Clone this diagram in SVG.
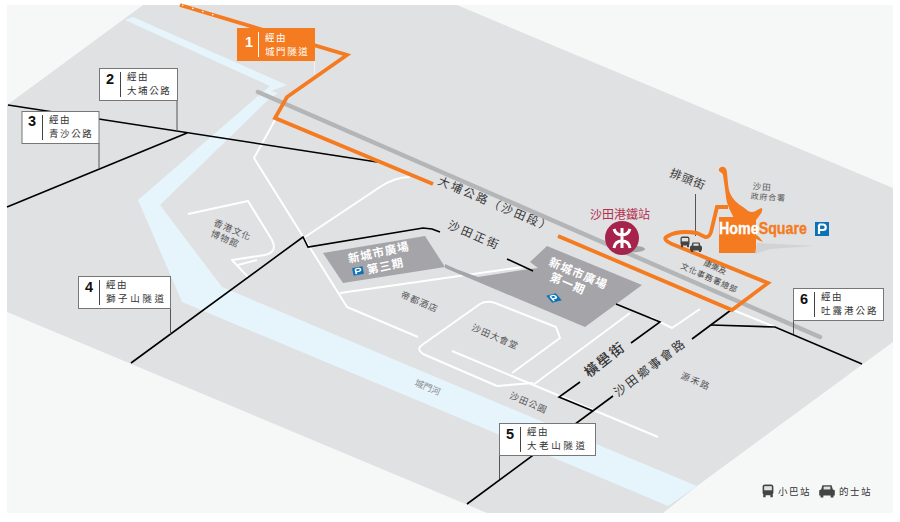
<svg xmlns="http://www.w3.org/2000/svg" width="900" height="522" viewBox="0 0 900 522">
<style>
text{font-family:"Noto Sans CJK TC","Noto Sans CJK SC","Liberation Sans",sans-serif}
.rw{fill:none;stroke:#fff;stroke-width:2;stroke-linejoin:round}
.bk{fill:none;stroke:#000;stroke-width:1.6;stroke-linejoin:miter}
.ld{fill:none;stroke:#555;stroke-width:1}
.or{fill:none;stroke:#f47b20;stroke-width:3.8;stroke-linejoin:miter}
.box{fill:#fff;stroke:#777;stroke-width:1}
.num{font-family:"Liberation Sans",sans-serif;font-weight:700;font-size:14.5px;fill:#111}
.bt{font-size:9.5px;letter-spacing:1.6px;fill:#333}
.st{font-size:11.5px;fill:#333;letter-spacing:2.5px}
.pl{font-size:9px;fill:#555;letter-spacing:1px}
.wb{font-size:11.5px;font-weight:700;fill:#fff;letter-spacing:1px}
</style>
<defs>
<g id="bus"><rect x="-4.5" y="-5.5" width="9" height="9" rx="2" fill="#444"/><rect x="-3.2" y="-4" width="6.4" height="3.4" fill="#e0e1e3"/><rect x="-4" y="3" width="2" height="2.2" fill="#444"/><rect x="2" y="3" width="2" height="2.2" fill="#444"/></g>
<g id="taxi"><path d="M-3.5-4.500H3.500L4.500-1.200 6-.5V3.500H-6V-.5L-4.500-1.200Z" fill="#444"/><rect x="-2.600" y="-3.400" width="5.200" height="2.200" fill="#e0e1e3"/><rect x="-5" y="3" width="2.200" height="2" fill="#444"/><rect x="2.800" y="3" width="2.200" height="2" fill="#444"/></g>
<g id="park"><rect x="-7" y="-7" width="14" height="14" fill="#0b72b8"/><path d="M-3-4.500V5M-3-4.500H1A2.500 2.500 0 0 1 1 1H-3" fill="none" stroke="#fff" stroke-width="2.200"/></g>
</defs>
<rect x="0" y="0" width="900" height="522" fill="#fff"/>
<rect x="7" y="5" width="886" height="508" fill="#f6f8f8"/>
<g id="ground">
<polygon points="143,5 457,5 893,188 893,342 697,486 663,513 487,513 7,312 7,105" fill="#e0e1e3"/>
<polygon points="160,205 268,100 258,96 138,200 182,302 450,414 668,506 697,486 450,383 222,287" fill="#e6f4fb"/>
<polygon points="125,20 133,17 287,85 271,91 278,93 268,100 258,96 270,86" fill="#e6f4fb"/>
</g>
<g id="roads">
<polyline class="rw" points="275,120 254,158 347,307 418,337"/>
<path class="rw" d="M305,237L380,187Q395,177 410,177"/>
<path class="rw" d="M188,214L248,201L272,240Q278,252 265,255L232,260L248,277M238,265L257,260"/>
<polyline class="rw" points="340,293 523,267"/>
<path class="rw" d="M497,386L423,354Q416,349 422,345L480,304Q487,300 495,303L556,327L560,338L512,373"/>
<polyline class="rw" points="497,386 533,383"/>
<polyline class="rw" points="452,351 658,437"/>
<polyline class="rw" points="533,385 630,313"/>
<polyline class="rw" points="650,317 672,328 700,309"/>
<polyline class="rw" points="733,310 775,327"/>
</g>
<line id="rail" x1="258" y1="92" x2="820" y2="337" stroke="#b4b5b7" stroke-width="4.5" stroke-linecap="round"/>
<g id="buildings">
<polygon points="323,253 425,236 445,267 343,283" fill="#a5a4a8"/>
<polygon points="445,264 456,269 478,277 523,270 538,268 530,262 547,246 642,285 585,327 445,268" fill="#a5a4a8"/>
</g>
<g id="connectors">
<polyline class="bk" points="8,105 377,162"/>
<polyline class="bk" points="7,207 187,133"/>
<polyline class="bk" points="131,363 303,237 308,247 423,228 432,229 440,232"/>
<polyline class="bk" points="507,259 533,271"/>
<polyline class="bk" points="616,304 660,322 631,343"/>
<polyline class="bk" points="580,382 559,397 593,411"/>
<polyline class="bk" points="467,504 613,396"/>
<polyline class="bk" points="692,339 731,310"/>
<polyline class="bk" points="711,325 775,327 862,364"/>
<line class="ld" x1="177" y1="100" x2="177" y2="131"/>
<line class="ld" x1="99" y1="143" x2="99" y2="168"/>
<line class="ld" x1="170.500" y1="308" x2="170.500" y2="334"/>
<line class="ld" x1="499.500" y1="455" x2="499.500" y2="479"/>
<line class="ld" x1="793.500" y1="320" x2="793.500" y2="334"/>
<line x1="314.500" y1="61" x2="314.500" y2="74" stroke="#f3f3f3"/>
<line class="ld" x1="695.500" y1="194" x2="695.500" y2="236"/>
</g>
<g id="route-orange">
<polyline class="or" points="180,5 347,55 287,97 275,118 433,184"/>
<line x1="182" y1="5" x2="214" y2="15" stroke="#fff" stroke-width="1.300" stroke-dasharray="1.500 9"/>
<path class="or" d="M558,236L732,310L768,283L672,244Q661,239 668,236Q678,230 697,233L705,237Q709,238 711,232L717,207H728"/>
</g>
<g id="homesquare">
<path d="M719,169C721,165 727,166 727,173C728,182 728,188 730,193C733,200 738,204 743,207C747,210 749,212 752,212C756,212 759,208 762,208C763,212 760,215 756,220H735C731,212 727,206 726,197C725,188 724,182 723,175C722,172 718,172 719,169Z" fill="#f47b20"/>
<path d="M755,234L759,237L763,242L758,240L755,238Z" fill="#f47b20"/>
<rect x="719" y="217" width="37" height="36" fill="#f47b20"/>
<path d="M757,243L815,246L770,249L755,254Z" fill="#d2d3d5"/>
<text x="719" y="234" font-size="17" font-weight="700" textLength="88" lengthAdjust="spacingAndGlyphs" style="font-family:'Liberation Sans',sans-serif" fill="#f47b20" stroke="#f47b20" stroke-width=".35"><tspan fill="#fff" stroke="#fff">Home</tspan>Square</text>
<use href="#park" x="822" y="229"/>
</g>
<g id="mtr">
<ellipse cx="630" cy="249" rx="15" ry="3.500" fill="#a5a4a8"/>
<circle cx="622" cy="238" r="17" fill="#a6244c"/>
<path d="M614,229Q616,235 622,235Q628,235 630,229M614,248Q615,241 622,241Q629,241 630,248M622,228V248" fill="none" stroke="#fff" stroke-width="3"/>
<text x="620" y="219" font-size="12" fill="#b5304f" text-anchor="middle">沙田港鐵站</text>
</g>
<g id="box-1"><rect x="237" y="28" width="78" height="33" fill="#f47b20"/><text class="num" x="245" y="47" style="fill:#fff">1</text><line x1="258.500" y1="32" x2="258.500" y2="57" stroke="#fff"/><text class="bt" x="265" y="41" style="fill:#fff">經由</text><text class="bt" x="265" y="55" style="fill:#fff">城門隧道</text></g>
<g id="box-2"><rect class="box" x="99.500" y="68.500" width="78" height="32"/><text class="num" x="106" y="84">2</text><line x1="120.500" y1="72" x2="120.500" y2="97" stroke="#444"/><text class="bt" x="127" y="80">經由</text><text class="bt" x="127" y="94">大埔公路</text></g>
<g id="box-3"><rect class="box" x="22" y="111.500" width="77" height="32"/><text class="num" x="28" y="126">3</text><line x1="42.500" y1="115" x2="42.500" y2="140" stroke="#444"/><text class="bt" x="49" y="123">經由</text><text class="bt" x="49" y="137">青沙公路</text></g>
<g id="box-4"><rect class="box" x="78.500" y="276.500" width="92" height="32"/><text class="num" x="85" y="292">4</text><line x1="99.500" y1="280" x2="99.500" y2="305" stroke="#444"/><text class="bt" x="106" y="288">經由</text><text class="bt" x="106" y="302" style="letter-spacing:2.600px">獅子山隧道</text></g>
<g id="box-5"><rect class="box" x="499.500" y="423.500" width="96" height="32"/><text class="num" x="506" y="439">5</text><line x1="520.500" y1="427" x2="520.500" y2="452" stroke="#444"/><text class="bt" x="527" y="435">經由</text><text class="bt" x="527" y="449" style="letter-spacing:2.600px">大老山隧道</text></g>
<g id="box-6"><rect class="box" x="793.500" y="288.500" width="90" height="32"/><text class="num" x="800" y="304">6</text><line x1="814.500" y1="292" x2="814.500" y2="317" stroke="#444"/><text class="bt" x="821" y="300">經由</text><text class="bt" x="821" y="314" style="letter-spacing:2px">吐露港公路</text></g>
<g id="labels">
<text class="st" transform="translate(437,184) rotate(23)" textLength="124">大埔公路（沙田段）</text>
<text class="st" transform="translate(447,228) rotate(23)" textLength="56">沙田正街</text>
<text class="st" transform="translate(669,176) rotate(22)" style="letter-spacing:1px">排頭街</text>
<text x="762" y="190" font-size="8.500" fill="#555" text-anchor="middle" transform="rotate(4 762 190)" letter-spacing="1">沙田</text>
<text x="768" y="200" font-size="8" fill="#555" text-anchor="middle" transform="rotate(4 768 200)" letter-spacing=".8">政府合署</text>
<text x="0" y="0" font-size="8" fill="#444" transform="translate(703,265) rotate(24)">康樂及</text>
<text x="0" y="0" font-size="8" fill="#444" transform="translate(680,268) rotate(24)" letter-spacing=".8">文化事務署總部</text>
<text class="wb" transform="translate(349,263) rotate(-12)">新城市廣場</text>
<use href="#park" transform="translate(358,271) rotate(-12) scale(.75,.55)"/>
<text class="wb" transform="translate(368,274) rotate(-12)">第三期</text>
<text class="wb" transform="translate(548,265) rotate(23)">新城市廣場</text>
<text class="wb" transform="translate(549,280) rotate(23)">第一期</text>
<use href="#park" transform="translate(554,298) rotate(-15) skewX(25) scale(.7,.6)"/>
<text class="pl" transform="translate(400,297) rotate(23)" letter-spacing="1">帝都酒店</text>
<text class="pl" transform="translate(471,330) rotate(23)" letter-spacing="1">沙田大會堂</text>
<text class="pl" transform="translate(213,225) rotate(23)">香港文化</text>
<text class="pl" transform="translate(210,236) rotate(23)">博物館</text>
<text font-size="9" fill="#8a8d90" transform="translate(414,385) rotate(23)">城門河</text>
<text class="pl" transform="translate(509,398) rotate(23)">沙田公園</text>
<text font-size="12" fill="#333" letter-spacing="2.500" transform="translate(618,397) rotate(-37)">沙田鄉事會路</text>
<text font-size="14" font-weight="500" fill="#333" letter-spacing="2" transform="translate(589,378) rotate(-38)">橫壆街</text>
<text class="pl" transform="translate(680,378) rotate(23)" style="letter-spacing:1.500px">源禾路</text>
</g>
<g id="icons">
<use href="#bus" x="685" y="242"/>
<use href="#taxi" x="696" y="247"/>
</g>
<g id="legend">
<use href="#bus" transform="translate(768,491) scale(1.200)"/>
<text x="778" y="495" font-size="9.500" fill="#333" letter-spacing="1.500">小巴站</text>
<use href="#taxi" transform="translate(827,491) scale(1.300)"/>
<text x="839" y="495" font-size="9.500" fill="#333" letter-spacing="1.500">的士站</text>
</g>
</svg>
